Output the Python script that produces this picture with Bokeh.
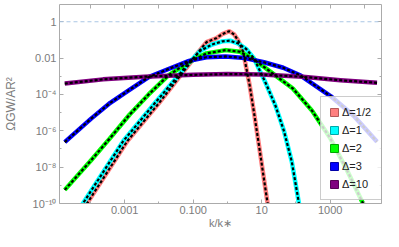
import numpy as np
from bokeh.plotting import figure
from bokeh.models import (Range1d, LogAxis, FixedTicker, CustomJSTickFormatter,
                          Legend, LegendItem, Span)
from bokeh.embed import file_html
from bokeh.resources import INLINE

# ---------------- data ----------------
series_labels = ["Δ=1/2", "Δ=1", "Δ=2", "Δ=3", "Δ=10"]

k_half = [5.01e-5, 7.94e-5, 1.20e-3, 1.02e-2, 4.07e-2, 7.94e-2, 0.132, 0.245, 0.468,
          0.708, 1.12, 1.58, 2.09, 2.88, 4.47, 6.17, 8.51, 11.7, 15.5, 17.8]
om_half = [3.55e-11, 1.0e-10, 2.75e-7, 3.47e-5, 1.0e-3, 5.01e-3, 1.82e-2, 7.59e-2, 0.123,
           0.209, 0.302, 0.200, 8.91e-2, 2.24e-2, 3.16e-4, 6.92e-6, 1.26e-7, 2.14e-9, 6.31e-11, 1.26e-11]

k_one = [4.47e-5, 6.03e-5, 9.12e-4, 7.76e-3, 3.55e-2, 6.76e-2, 0.162, 0.355, 0.708, 1.20,
         2.09, 3.55, 5.89, 12.6, 25.1, 44.7, 75.9, 123.0, 145.0]
om_one = [3.98e-11, 1.0e-10, 2.75e-7, 3.47e-5, 1.0e-3, 4.47e-3, 2.51e-2, 5.62e-2, 8.32e-2, 9.12e-2,
          6.31e-2, 3.16e-2, 1.0e-2, 5.01e-4, 2.51e-5, 1.0e-6, 2.0e-8, 1.0e-10, 2.51e-11]

k_two = [1.78e-5, 1.05e-4, 3.80e-4, 1.38e-3, 5.01e-3, 1.82e-2, 6.61e-2, 0.245, 0.891, 2.34,
         6.17, 22.4, 81.3, 295.0, 1000.0, 3160.0, 9120.0, 1.26e4]
om_two = [5.62e-10, 2.40e-8, 4.07e-7, 7.59e-6, 1.0e-4, 1.05e-3, 5.37e-3, 1.82e-2, 2.75e-2, 2.24e-2,
          8.13e-3, 1.32e-3, 2.14e-4, 1.29e-5, 3.98e-7, 6.31e-9, 1.0e-10, 2.51e-11]

k_three = [1.78e-5, 1.05e-4, 3.80e-4, 1.38e-3, 5.01e-3, 1.82e-2, 7.59e-2, 0.245, 0.891, 3.24,
           11.7, 42.7, 138.0, 1.05e3, 4.79e3, 2.34e4]
om_three = [2.40e-7, 4.68e-6, 3.47e-5, 1.78e-4, 8.91e-4, 2.45e-3, 7.08e-3, 1.12e-2, 1.23e-2, 1.0e-2,
            5.89e-3, 2.95e-3, 1.10e-3, 7.94e-5, 6.92e-6, 2.51e-7]

k_ten = [1.78e-5, 2.34e-4, 3.80e-3, 0.1, 1.0, 10.0, 158.0, 2.0e3, 2.34e4]
om_ten = [3.98e-4, 6.76e-4, 9.55e-4, 1.20e-3, 1.32e-3, 1.26e-3, 9.33e-4, 6.03e-4, 4.37e-4]

ref_level = 1.0

x_ticks = [1e-3, 1e-1, 1e1, 1e3]
x_tick_labels = ["0.001", "0.100", "10", "1000"]
x_minor = [1e-4, 1e-2, 1e0, 1e2, 1e4]
x_top_ticks = [1e-4, 1e-3, 1e-2, 1e-1, 1e0, 1e1, 1e2, 1e3, 1e4]

y_ticks = [1e-10, 1e-8, 1e-6, 1e-4, 1e-2, 1e0]
y_tick_labels = ["10⁻¹⁰", "10⁻⁸", "10⁻⁶", "10⁻⁴", "0.01", "1"]
y_minor = [1e-9, 1e-7, 1e-5, 1e-3, 1e-1]

x_title = "k/k∗"
y_title = "ΩGW/AR²"

colors = ["#ff8080", "#00ffff", "#00ff00", "#0000ff", "#800080"]
edge_colors = ["#b35a5a", "#00a8a8", "#00a800", "#0000a8", "#560056"]

# ---------------- figure ----------------
FONT = "Liberation Sans"
GRAY = "#7b7b7b"
FRAME = "#ababab"

p = figure(width=383, height=231, x_axis_type="log", y_axis_type="log",
           x_range=Range1d(1.25e-5, 3.16e4), y_range=Range1d(1e-10, 8.9),
           output_backend="svg", toolbar_location=None,
           min_border_left=54, min_border_right=2, min_border_top=4, min_border_bottom=0)
p.outline_line_color = None
p.xgrid.visible = False
p.ygrid.visible = False
p.background_fill_color = "white"
p.border_fill_color = "white"

fmt_js = """
for (let i = 0; i < tvals.length; i++) {
  if (Math.abs(Math.log10(tvals[i]) - Math.log10(tick)) < 1e-6) { return tlabels[i]; }
}
return '';
"""

def style_axis(ax, labels_on):
    ax.axis_line_color = FRAME
    ax.major_tick_line_color = FRAME
    ax.minor_tick_line_color = FRAME
    ax.major_tick_in = 4
    ax.major_tick_out = 0
    ax.minor_tick_in = 2
    ax.minor_tick_out = 0
    ax.major_label_text_font = FONT
    ax.major_label_text_color = GRAY
    ax.axis_label_text_font = FONT
    ax.axis_label_text_color = GRAY
    ax.axis_label_text_font_style = "normal"
    ax.axis_label_text_font_size = "11px"
    if labels_on:
        ax.major_label_text_font_size = "11px"
        ax.major_label_standoff = 3
    else:
        ax.major_label_text_font_size = "0px"
        ax.major_label_standoff = 0

xb = p.xaxis[0]
xb.ticker = FixedTicker(ticks=x_ticks, minor_ticks=x_minor)
xb.formatter = CustomJSTickFormatter(args=dict(tvals=x_ticks, tlabels=x_tick_labels), code=fmt_js)
style_axis(xb, True)
xb.major_label_standoff = 2
xb.axis_label = x_title
xb.axis_label_standoff = 0

yl = p.yaxis[0]
yl.ticker = FixedTicker(ticks=y_ticks, minor_ticks=y_minor)
yl.formatter = CustomJSTickFormatter(args=dict(tvals=y_ticks, tlabels=y_tick_labels), code=fmt_js)
style_axis(yl, True)
yl.axis_label = y_title
yl.axis_label_text_font_size = "12px"
yl.axis_label_standoff = 12

top_ax = LogAxis(ticker=FixedTicker(ticks=x_top_ticks, minor_ticks=[]),
                 formatter=CustomJSTickFormatter(code="return '';"))
style_axis(top_ax, False)
p.add_layout(top_ax, "above")

right_ax = LogAxis(ticker=FixedTicker(ticks=y_ticks, minor_ticks=y_minor),
                   formatter=CustomJSTickFormatter(code="return '';"))
style_axis(right_ax, False)
p.add_layout(right_ax, "right")

p.add_layout(Span(location=ref_level, dimension="width", line_color="#aac6e4",
                  line_width=1, line_dash="4 3"))

ks = [k_half, k_one, k_two, k_three, k_ten]
oms = [om_half, om_one, om_two, om_three, om_ten]

for k, om, c in zip(ks, oms, colors):
    p.line(k, om, line_color=c, line_width=4.5, line_join="round")
for k, om in zip(ks, oms):
    p.line(k, om, line_color="black", line_width=2.2, line_dash="3 2")

# legend swatches (one NaN row so the legend draws a filled square, nothing on the plot)
nan = np.array([np.nan])
items = []
for lab_text, c, ec in zip(series_labels, colors, edge_colors):
    r = p.quad(left=nan, right=nan, top=nan, bottom=nan, fill_color=c, line_color=ec, line_width=1)
    items.append(LegendItem(label=lab_text, renderers=[r]))

legend = Legend(items=items, location=(261, 3), orientation="vertical",
                border_line_color="#9a9a9a", border_line_width=1,
                background_fill_color="white", background_fill_alpha=0.8,
                label_text_font=FONT, label_text_font_size="11px", label_text_color="#222222",
                glyph_width=10, glyph_height=10, label_height=14, label_width=34, spacing=4,
                padding=8, label_standoff=3, margin=0)
p.add_layout(legend, "center")

open("out.html", "w").write(file_html(p, INLINE))
